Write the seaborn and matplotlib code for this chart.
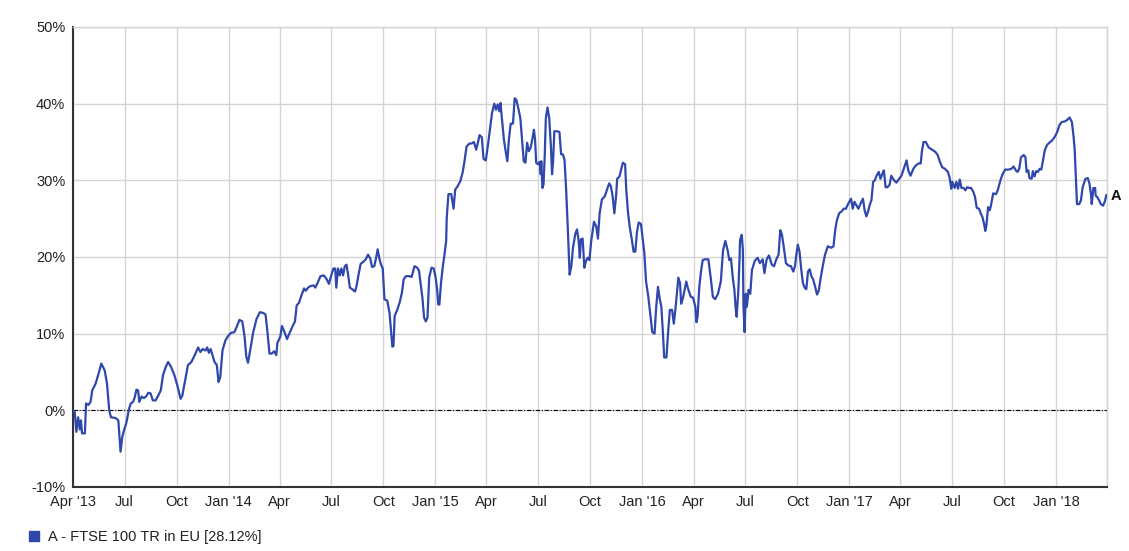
import pandas as pd
import matplotlib.pyplot as plt
import matplotlib.dates as mdates
from matplotlib.lines import Line2D
from matplotlib.ticker import FuncFormatter
import seaborn as sns

# visual setup
sns.set_theme(style="whitegrid")
plt.rcParams['font.family'] = ['Liberation Sans', 'DejaVu Sans']

# ==========================================
# data (cumulative return, %)
# ==========================================
d2013 = ["04-01", "04-04", "04-07", "04-10", "04-13", "04-15", "04-17", "04-22", "04-24", "04-28",
         "05-02", "05-05", "05-11", "05-17", "05-21", "05-27", "05-31", "06-04", "06-07", "06-15",
         "06-20", "06-22", "06-24", "06-27", "06-30", "07-04", "07-09", "07-12", "07-16", "07-19",
         "07-22", "07-25", "07-27", "07-31", "08-04", "08-08", "08-12", "08-16", "08-20", "08-25",
         "08-30", "09-03", "09-07", "09-12", "09-16", "09-21", "09-27", "10-02", "10-08", "10-11",
         "10-16", "10-21", "10-27", "11-02", "11-08", "11-12", "11-16", "11-21", "11-24", "11-27",
         "11-30", "12-04", "12-07", "12-11", "12-14", "12-17", "12-21", "12-26"]
v2013 = [0.0, -0.2, -2.8, -0.9, -2.5, -1.3, -3.0, -3.0, 0.9, 0.7,
         1.1, 2.6, 3.5, 5.0, 6.1, 5.2, 3.5, 0.0, -0.9, -1.0,
         -1.3, -3.3, -5.4, -3.5, -2.6, -1.7, 0.2, 0.9, 1.1, 1.7,
         2.7, 2.6, 1.1, 1.8, 1.6, 1.8, 2.3, 2.2, 1.3, 1.3,
         2.0, 2.6, 4.6, 5.7, 6.3, 5.7, 4.6, 3.3, 1.5, 1.9,
         3.9, 5.9, 6.3, 7.2, 8.2, 7.6, 8.0, 7.8, 8.2, 7.5,
         8.0, 7.0, 6.3, 5.9, 3.7, 4.3, 7.8, 9.1]

d2014 = ["01-01", "01-05", "01-11", "01-14", "01-20", "01-25", "01-29", "02-01", "02-04", "02-09",
         "02-13", "02-19", "02-25", "03-03", "03-07", "03-10", "03-14", "03-18", "03-22", "03-26",
         "03-28", "04-02", "04-05", "04-09", "04-14", "04-18", "04-24", "04-28", "05-01", "05-05",
         "05-09", "05-14", "05-17", "05-21", "05-25", "05-31", "06-03", "06-08", "06-12", "06-18",
         "06-23", "06-27", "07-01", "07-05", "07-08", "07-10", "07-13", "07-16", "07-19", "07-22",
         "07-25", "07-28", "07-31", "08-03", "08-07", "08-12", "08-15", "08-18", "08-22", "08-27",
         "08-31", "09-04", "09-08", "09-11", "09-15", "09-18", "09-21", "09-24", "09-27", "09-30",
         "10-03", "10-08", "10-12", "10-15", "10-17", "10-19", "10-21", "10-26", "10-30", "11-03",
         "11-06", "11-10", "11-16", "11-20", "11-25", "11-30", "12-03", "12-06", "12-09", "12-12",
         "12-15", "12-18", "12-21", "12-25", "12-29"]
v2014 = [9.8, 10.1, 10.2, 10.7, 11.8, 11.6, 9.6, 7.0, 6.2, 8.3,
         10.1, 11.9, 12.8, 12.7, 12.5, 10.5, 7.4, 7.4, 7.7, 7.2,
         8.8, 9.6, 11.0, 10.3, 9.3, 10.0, 11.0, 11.6, 13.7, 14.0,
         14.9, 15.9, 15.6, 16.0, 16.2, 16.3, 16.0, 16.8, 17.5, 17.6,
         17.1, 16.5, 17.6, 18.5, 18.5, 16.0, 18.5, 17.6, 18.5, 17.6,
         18.8, 19.0, 17.6, 16.0, 15.8, 15.5, 16.3, 17.6, 19.1, 19.4,
         19.7, 20.3, 19.8, 18.7, 18.8, 19.8, 21.0, 19.8, 19.0, 18.5,
         14.5, 14.3, 12.7, 10.1, 8.3, 8.4, 12.3, 13.2, 14.1, 15.4,
         17.1, 17.5, 17.5, 17.4, 18.8, 18.6, 18.2, 16.4, 14.7, 12.1,
         11.6, 12.1, 17.3, 18.6, 18.5]

d2015 = ["01-01", "01-04", "01-06", "01-08", "01-11", "01-14", "01-17", "01-20", "01-21", "01-24",
         "01-29", "02-02", "02-05", "02-09", "02-14", "02-18", "02-21", "02-25", "03-02", "03-06",
         "03-10", "03-14", "03-17", "03-20", "03-24", "03-27", "03-31", "04-04", "04-08", "04-11",
         "04-15", "04-18", "04-21", "04-24", "04-26", "04-28", "05-02", "05-05", "05-08", "05-11",
         "05-14", "05-18", "05-21", "05-24", "05-28", "05-31", "06-03", "06-06", "06-09", "06-12",
         "06-15", "06-18", "06-21", "06-24", "06-26", "06-28", "07-01", "07-04", "07-06", "07-07",
         "07-09", "07-11", "07-13", "07-15", "07-18", "07-21", "07-24", "07-26", "07-28", "07-30",
         "08-04", "08-08", "08-11", "08-14", "08-17", "08-20", "08-23", "08-26", "08-29", "09-01",
         "09-05", "09-08", "09-11", "09-13", "09-15", "09-18", "09-21", "09-24", "09-27", "09-30",
         "10-03", "10-08", "10-12", "10-15", "10-18", "10-22", "10-27", "11-01", "11-04", "11-07",
         "11-10", "11-13", "11-16", "11-18", "11-22", "11-25", "11-28", "12-02", "12-04", "12-07",
         "12-10", "12-14", "12-17", "12-20", "12-23", "12-26", "12-30"]
v2015 = [17.5, 15.8, 13.8, 13.8, 16.7, 18.7, 20.3, 22.1, 25.1, 28.2,
         28.2, 26.3, 28.8, 29.2, 29.9, 31.0, 32.3, 34.4, 34.8, 34.8,
         35.0, 34.0, 34.9, 35.9, 35.6, 32.8, 32.6, 34.7, 37.1, 38.8,
         40.0, 39.2, 39.9, 39.0, 40.1, 38.4, 35.3, 33.8, 32.5, 35.5,
         37.4, 37.4, 40.7, 40.5, 39.2, 38.1, 35.3, 32.5, 32.3, 34.9,
         33.8, 34.2, 35.3, 36.6, 35.3, 32.3, 32.1, 32.4, 30.8, 32.5,
         29.0, 29.5, 33.1, 38.1, 39.5, 38.1, 34.4, 30.8, 32.7, 36.4,
         36.4, 36.3, 33.4, 33.4, 32.7, 28.6, 23.4, 17.7, 18.8, 21.2,
         23.0, 23.6, 22.1, 19.9, 22.3, 22.4, 18.6, 19.5, 19.9, 19.6,
         22.0, 24.6, 24.0, 22.4, 25.7, 27.5, 27.9, 29.0, 29.6, 29.2,
         27.9, 25.7, 27.9, 30.2, 30.5, 31.4, 32.3, 32.1, 28.8, 25.9,
         24.0, 22.2, 20.7, 20.7, 23.3, 24.5, 24.3]

d2016 = ["01-02", "01-05", "01-08", "01-12", "01-16", "01-19", "01-23", "01-26", "01-29", "02-01",
         "02-04", "02-07", "02-09", "02-13", "02-16", "02-19", "02-23", "02-26", "02-29", "03-03",
         "03-05", "03-08", "03-10", "03-13", "03-16", "03-19", "03-22", "03-27", "03-31", "04-04",
         "04-06", "04-08", "04-11", "04-14", "04-17", "04-21", "04-27", "05-01", "05-05", "05-09",
         "05-14", "05-19", "05-23", "05-27", "05-31", "06-03", "06-06", "06-09", "06-12", "06-14",
         "06-16", "06-19", "06-21", "06-22", "06-25", "06-27", "06-28", "06-30", "07-02", "07-04",
         "07-07", "07-10", "07-13", "07-18", "07-23", "07-27", "08-01", "08-04", "08-08", "08-12",
         "08-17", "08-21", "08-25", "08-29", "09-01", "09-04", "09-07", "09-11", "09-15", "09-20",
         "09-24", "09-27", "09-29", "10-02", "10-05", "10-08", "10-11", "10-14", "10-17", "10-20",
         "10-23", "10-26", "10-29", "11-02", "11-05", "11-08", "11-11", "11-15", "11-19", "11-24",
         "11-30", "12-04", "12-07", "12-10", "12-14", "12-19", "12-22", "12-26", "12-29"]
v2016 = [22.4, 20.5, 16.8, 14.8, 12.2, 10.2, 10.0, 13.5, 16.1, 14.6,
         13.5, 9.8, 6.9, 6.9, 10.2, 13.1, 13.1, 11.3, 13.3, 15.7,
         17.3, 16.6, 13.9, 14.6, 15.7, 16.8, 15.9, 14.8, 14.7, 13.5,
         11.5, 12.2, 16.1, 18.1, 19.6, 19.7, 19.7, 17.4, 14.8, 14.5,
         15.2, 16.8, 20.9, 22.1, 20.9, 19.6, 19.8, 17.4, 15.7, 13.5,
         12.2, 15.7, 19.6, 22.2, 22.9, 20.9, 13.5, 10.2, 15.2, 13.5,
         15.7, 15.2, 18.3, 19.5, 19.9, 19.2, 19.7, 17.9, 19.7, 20.2,
         19.0, 18.8, 19.7, 20.3, 23.5, 22.9, 21.4, 19.2, 18.9, 18.8,
         18.1, 18.8, 20.1, 21.6, 20.7, 18.4, 16.6, 16.0, 15.8, 18.1,
         18.4, 17.5, 17.1, 16.0, 15.1, 15.6, 17.1, 18.8, 20.3, 21.4,
         21.2, 21.4, 23.5, 24.8, 25.7, 26.0, 26.3, 26.3, 26.8]

d2017 = ["01-01", "01-04", "01-07", "01-10", "01-13", "01-17", "01-21", "01-25", "01-28", "01-31",
         "02-03", "02-06", "02-09", "02-12", "02-15", "02-18", "02-22", "02-25", "02-28", "03-03",
         "03-06", "03-09", "03-13", "03-16", "03-21", "03-25", "03-29", "04-03", "04-08", "04-12",
         "04-15", "04-19", "04-24", "04-28", "05-03", "05-07", "05-09", "05-12", "05-16", "05-21",
         "05-27", "06-02", "06-06", "06-10", "06-14", "06-19", "06-24", "06-27", "06-30", "07-02",
         "07-06", "07-09", "07-12", "07-15", "07-18", "07-22", "07-25", "07-28", "08-01", "08-04",
         "08-08", "08-11", "08-14", "08-18", "08-21", "08-24", "08-27", "08-29", "08-31", "09-03",
         "09-06", "09-08", "09-12", "09-17", "09-20", "09-24", "09-28", "10-03", "10-09", "10-14",
         "10-18", "10-22", "10-25", "10-28", "10-31", "11-05", "11-08", "11-10", "11-13", "11-15",
         "11-19", "11-21", "11-24", "11-27", "11-30", "12-03", "12-06", "12-09", "12-12", "12-16",
         "12-20", "12-25", "12-30"]
v2017 = [27.2, 27.6, 26.3, 27.2, 26.8, 26.3, 27.0, 27.6, 26.1, 25.3,
         25.9, 26.8, 27.4, 29.8, 30.0, 30.6, 31.1, 30.2, 30.8, 31.3,
         29.1, 29.1, 29.4, 30.6, 30.0, 29.7, 30.1, 30.6, 31.7, 32.6,
         31.3, 30.6, 31.5, 31.9, 32.2, 32.2, 33.7, 35.0, 35.0, 34.3,
         34.0, 33.7, 33.3, 32.4, 31.7, 31.5, 31.1, 30.4, 28.9, 29.8,
         29.0, 29.8, 28.9, 30.1, 29.0, 29.0, 28.7, 29.1, 29.0, 29.0,
         28.5, 27.8, 26.4, 26.3, 25.7, 25.2, 24.3, 23.4, 24.1, 26.5,
         26.1, 26.7, 28.3, 28.2, 28.7, 29.8, 30.7, 31.4, 31.4, 31.5,
         31.8, 31.3, 31.1, 31.5, 33.0, 33.3, 33.0, 31.1, 31.3, 30.3,
         30.2, 31.2, 30.5, 31.2, 31.1, 31.5, 31.4, 32.6, 33.9, 34.6,
         34.9, 35.2, 35.7]

d2018 = ["01-03", "01-07", "01-11", "01-17", "01-21", "01-25", "01-29", "02-01", "02-03", "02-05",
         "02-07", "02-11", "02-14", "02-17", "02-22", "02-26", "03-01", "03-04", "03-05", "03-08",
         "03-11", "03-12", "03-15", "03-18", "03-21", "03-25", "03-28", "03-31"]
v2018 = [36.3, 37.2, 37.6, 37.7, 37.9, 38.2, 37.6, 35.7, 33.9, 30.4,
         26.9, 26.9, 27.4, 29.1, 30.2, 30.3, 29.6, 28.0, 26.9, 29.0,
         29.0, 28.0, 27.8, 27.4, 26.9, 26.7, 27.2, 28.1]

tick_dates = ["2013-04-01", "2013-07-01", "2013-10-01", "2014-01-01", "2014-04-01", "2014-07-01",
              "2014-10-01", "2015-01-01", "2015-04-01", "2015-07-01", "2015-10-01", "2016-01-01",
              "2016-04-01", "2016-07-01", "2016-10-01", "2017-01-01", "2017-04-01", "2017-07-01",
              "2017-10-01", "2018-01-01", "2018-04-01"]
tick_labels = ["Apr '13", "Jul", "Oct", "Jan '14", "Apr", "Jul", "Oct", "Jan '15", "Apr", "Jul",
               "Oct", "Jan '16", "Apr", "Jul", "Oct", "Jan '17", "Apr", "Jul", "Oct", "Jan '18", ""]
y_ticks = [-10, 0, 10, 20, 30, 40, 50]

serie_nome = "A - FTSE 100 TR in EU [28.12%]"
serie_letra = "A"
cor_linha = '#3047AB'

# ==========================================
# montando o DataFrame
# ==========================================
blocos = []
for ano, dias, vals in [(2013, d2013, v2013), (2014, d2014, v2014), (2015, d2015, v2015),
                        (2016, d2016, v2016), (2017, d2017, v2017), (2018, d2018, v2018)]:
    blocos.append(pd.DataFrame({'Data': pd.to_datetime([f"{ano}-{d}" for d in dias]),
                                'Retorno': vals}))
df = pd.concat(blocos, ignore_index=True)

# ==========================================
# grafico
# ==========================================
W, H = 1129, 551
fig = plt.figure(figsize=(W / 100, H / 100), dpi=100)
ax = fig.add_axes([73 / W, 1 - 487 / H, (1107 - 73) / W, (487 - 27) / H])

sns.lineplot(data=df, x='Data', y='Retorno', ax=ax, color=cor_linha, linewidth=1.6, zorder=3)
ax.axhline(0, color='black', linewidth=0.8, linestyle=(0, (4, 1.5, 1, 1.5)), zorder=2)

ticks_x = pd.to_datetime(tick_dates)
ax.set_xlim(ticks_x[0], ticks_x[-1])
ax.set_xticks(ticks_x)
ax.set_xticklabels(tick_labels)
ax.set_ylim(-10, 50)
ax.set_yticks(y_ticks)
ax.yaxis.set_major_formatter(FuncFormatter(lambda v, p: f"{int(v)}%"))
ax.set_xlabel('')
ax.set_ylabel('')

ax.set_axisbelow(True)
ax.grid(True, color='#d4d4d4', linewidth=1.0)
ax.set_facecolor('white')
for lado in ['left', 'bottom']:
    ax.spines[lado].set_color('#333333')
    ax.spines[lado].set_linewidth(1.5)
for lado in ['top', 'right']:
    ax.spines[lado].set_color('#d4d4d4')
    ax.spines[lado].set_linewidth(1.0)

ax.tick_params(axis='both', which='major', length=4, width=1, color='#333333',
               labelsize=10.5, labelcolor='#222222', pad=1.5, direction='out')

# letra da serie no fim da linha
ax.annotate(serie_letra, xy=(mdates.date2num(df['Data'].iloc[-1]), df['Retorno'].iloc[-1]),
            xytext=(3, -1), textcoords='offset points', ha='left', va='center',
            fontsize=10.5, fontweight='bold', color='#111111', annotation_clip=False)

# legenda embaixo a esquerda
marcador = Line2D([], [], marker='s', linestyle='', color=cor_linha, markersize=7.5)
fig.legend(handles=[marcador], labels=[serie_nome], loc='center left',
           bbox_to_anchor=(22 / W, 1 - 537 / H), frameon=False, fontsize=10.5,
           handletextpad=0.2, handlelength=1.6, borderaxespad=0, borderpad=0,
           labelcolor='#222222')

fig.savefig('out.png', dpi=100)
